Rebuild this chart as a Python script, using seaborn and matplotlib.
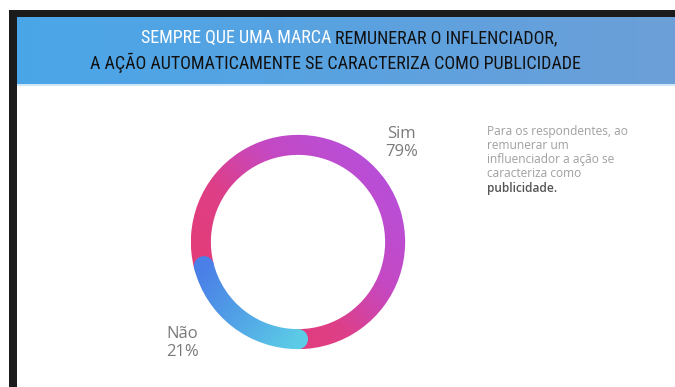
import numpy as np
import matplotlib
matplotlib.use("Agg")
import matplotlib.pyplot as plt
from matplotlib.colors import LinearSegmentedColormap
from matplotlib.patches import Rectangle, Circle
from matplotlib import font_manager as fm
import seaborn as sns

# ---- data ----
categories = ["Sim", "Não"]
values = [79, 21]
title_white = "SEMPRE QUE UMA MARCA "
title_black = "REMUNERAR O INFLENCIADOR,"
title_line2 = "A AÇÃO AUTOMATICAMENTE SE CARACTERIZA COMO PUBLICIDADE"
note_lines = ["Para os respondentes, ao", "remunerar um", "influenciador a ação se",
              "caracteriza como"]
note_bold = "publicidade."

sns.set_theme(style="white")
plt.rcParams["font.family"] = ["Open Sans", "DejaVu Sans"]

# pick a condensed font for the title if one is installed
def pick_condensed():
    cands = []
    for f in fm.fontManager.ttflist:
        nm = f.name.lower()
        st = str(f.stretch).lower()
        narrow = ("narrow" in nm or "condensed" in nm or "condensed" in st
                  or (isinstance(f.stretch, int) and f.stretch < 500))
        if narrow and f.style == "normal" and "italic" not in f.fname.lower():
            w = f.weight if isinstance(f.weight, int) else 400
            score = abs(w - 400)
            if "roboto" in nm:
                score -= 50
            cands.append((score, f.fname))
    if cands:
        cands.sort()
        return fm.FontProperties(fname=cands[0][1])
    return fm.FontProperties(family="DejaVu Sans", stretch="condensed")

W, H = 675, 387
fig = plt.figure(figsize=(W / 100, H / 100), dpi=100)
fig.patch.set_facecolor("white")

# ---- frame and banner (figure-level) ----
bg = fig.add_axes([0, 0, 1, 1])
bg.axis("off")
bg.add_patch(Rectangle((9, 10), 8, H - 10, color="#1b1b1b", lw=0))
bg.add_patch(Rectangle((9, 10), W - 9, 7, color="#1b1b1b", lw=0))
grad = np.linspace(0, 1, 256).reshape(1, -1)
ban_cmap = LinearSegmentedColormap.from_list("ban", ["#4aa6e8", "#5aa2e0", "#6c9fd8"])
bg.imshow(grad, cmap=ban_cmap, extent=(17, W, 84, 17), aspect="auto", zorder=1)
bg.add_patch(Rectangle((17, 84), W - 17, 2, color="#cfe6f7", lw=0, zorder=2))
bg.set_xlim(0, W)
bg.set_ylim(H, 0)

# title
renderer = fig.canvas.get_renderer()
tprop = pick_condensed()
tprop.set_size(16)
probe = fig.text(0, 0, title_line2, fontproperties=tprop)
pw = probe.get_window_extent(renderer).width
probe.remove()
tprop.set_size(min(19.0, 16 * 493 / pw))

t_w = fig.text(0, 1 - 38 / H, title_white, color="white", va="center", ha="left",
               fontproperties=tprop)
t_b = fig.text(0, 1 - 38 / H, title_black, color="#111111", va="center", ha="left",
               fontproperties=tprop)
w1 = t_w.get_window_extent(renderer).width
w2 = t_b.get_window_extent(renderer).width
x0 = (349 - (w1 + w2) / 2) / W
t_w.set_x(x0)
t_b.set_x(x0 + w1 / W)
fig.text(335 / W, 1 - 63 / H, title_line2, color="#111111", va="center", ha="center",
         fontproperties=tprop)

# ---- donut ----
cx, cy, half = 298, 242, 120
ax = fig.add_axes([(cx - half) / W, (H - cy - half) / H, 2 * half / W, 2 * half / H])

ring_w = 0.187
wedges, _ = ax.pie(values, startangle=-90, counterclock=True, radius=1.0,
                   wedgeprops=dict(width=ring_w, edgecolor="none"))
ax.set_aspect("equal")
ax.axis("off")

n = 300
xs = np.linspace(-1, 1, n)
X, Y = np.meshgrid(xs, xs[::-1])

# Sim: diagonal gradient pink (bottom-left) to purple (top-right)
sim_cmap = LinearSegmentedColormap.from_list("sim", ["#e43c78", "#de3f86", "#c449c4", "#b84fd8"])
g_sim = (X * 0.75 + Y * 0.66)
sim_img = ax.imshow(g_sim, cmap=sim_cmap, extent=(-1, 1, -1, 1), zorder=2,
                    vmin=-0.9, vmax=1.0, interpolation="bilinear")
sim_img.set_clip_path(wedges[0])
wedges[0].set_facecolor("none")

# Não: gradient along arc, blue (upper end) to cyan (lower end)
nao = wedges[1]
t1, t2 = np.deg2rad(nao.theta1), np.deg2rad(nao.theta2)
rm = 1 - ring_w / 2
p1 = np.array([rm * np.cos(t1), rm * np.sin(t1)])
p2 = np.array([rm * np.cos(t2), rm * np.sin(t2)])
d = p2 - p1
g_nao = ((X - p1[0]) * d[0] + (Y - p1[1]) * d[1]) / (d @ d)
nao_cmap = LinearSegmentedColormap.from_list("nao", ["#4a7fe8", "#52a4e6", "#5ccbe6"])
nao_img = ax.imshow(g_nao, cmap=nao_cmap, extent=(-1, 1, -1, 1), zorder=4,
                    vmin=0, vmax=1, interpolation="bilinear")
nao_img.set_clip_path(nao)
nao.set_facecolor("none")
ax.add_patch(Circle(p1, ring_w / 2, color=nao_cmap(0.0), lw=0, zorder=3.9))
ax.add_patch(Circle(p2, ring_w / 2, color=nao_cmap(1.0), lw=0, zorder=3.9))
ax.set_xlim(-1.12, 1.12)
ax.set_ylim(-1.12, 1.12)

# labels
lab_pos = {"Sim": (0.97, 0.925), "Não": (-1.08, -0.94)}
for c, v in zip(categories, values):
    lx, ly = lab_pos[c]
    ax.text(lx, ly, f"{c}\n{v}%", ha="center", va="center", fontsize=12,
            color="#7a7a7a", linespacing=1.2, zorder=5)

# ---- note on the right ----
nfs = 8.6
y = 131
for line in note_lines:
    fig.text(487 / W, 1 - y / H, line, ha="left", va="center", fontsize=nfs, color="#a0a0a0")
    y += 14.3
fig.text(487 / W, 1 - y / H, note_bold, ha="left", va="center", fontsize=nfs,
         color="#555555", fontweight="semibold")

fig.savefig("out.png", dpi=100, facecolor="white")
